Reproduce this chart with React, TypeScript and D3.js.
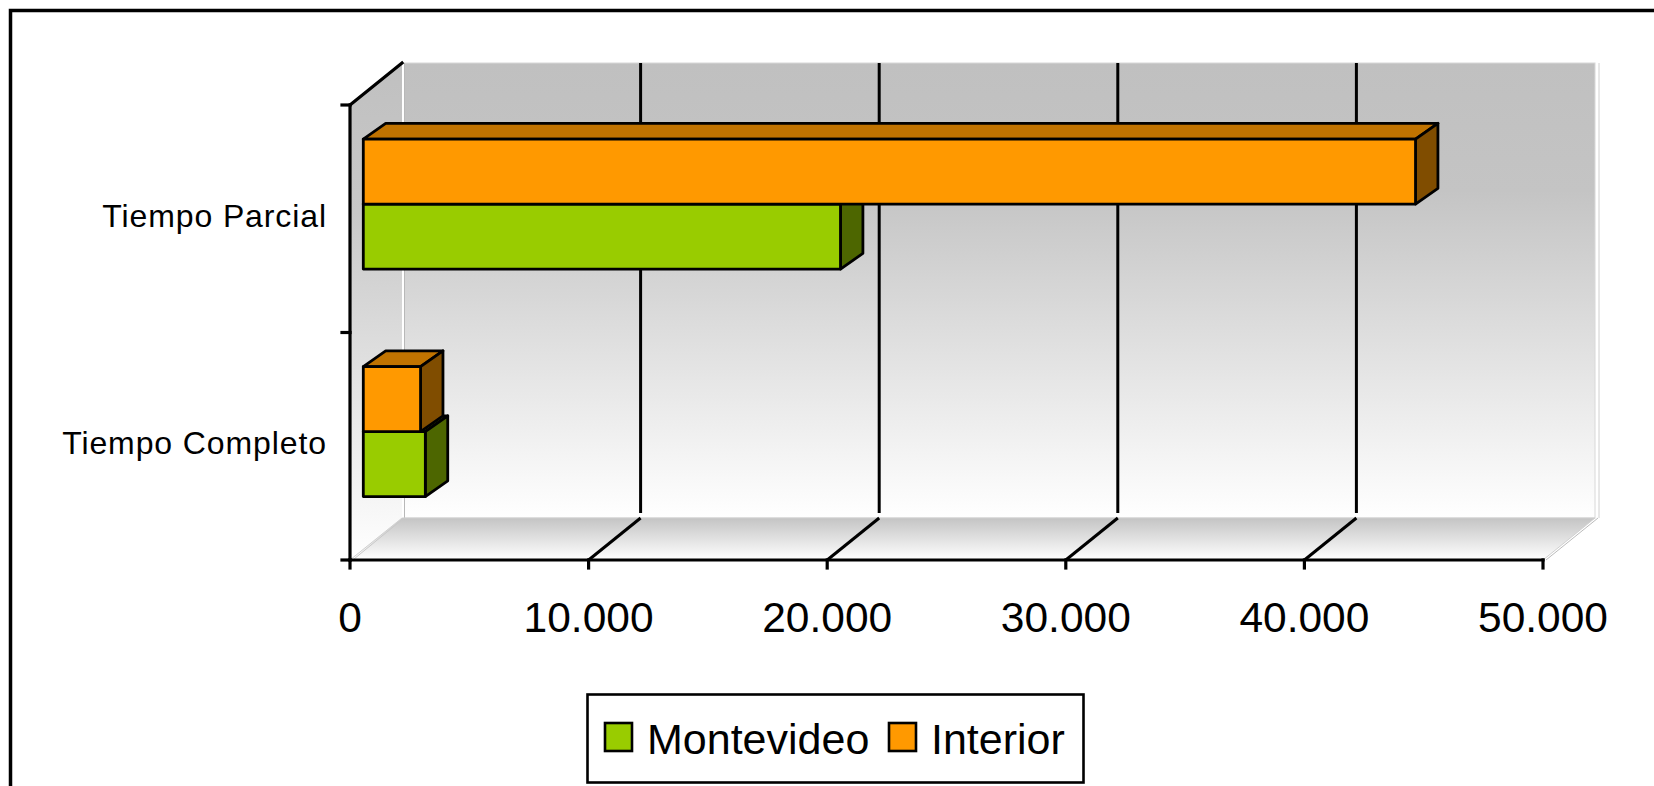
import React from "react";
import * as d3 from "d3";

const categories = ["Tiempo Completo", "Tiempo Parcial"];
const seriesNames = ["Montevideo", "Interior"];
const montevideo = [2600, 20000];
const interior = [2400, 44100];
const xTicks = [0, 10000, 20000, 30000, 40000, 50000];

const seriesValues: Record<string, number[]> = { Montevideo: montevideo, Interior: interior };
const seriesColors: Record<string, { front: string; top: string; side: string }> = {
  Montevideo: { front: "#99CC00", top: "#739900", side: "#4D6600" },
  Interior: { front: "#FF9900", top: "#C07300", side: "#804D00" },
};

const FONT = "'Liberation Sans', Arial, Helvetica, sans-serif";
const fmt = (v: number) => (v === 0 ? "0" : d3.format(",")(v).replace(/,/g, "."));

export default function App() {
  const W = 1654, H = 786;
  const x = d3.scaleLinear().domain([0, 50000]).range([350, 1543]);
  const y = d3.scaleBand<string>().domain(categories).range([560, 105]).padding(0);
  const ys = d3
    .scaleBand<string>()
    .domain(["Interior", "Montevideo"])
    .range([0, y.bandwidth()])
    .paddingInner(0)
    .paddingOuter(0.75);
  const D = { x: 52, y: -42 }; // full depth
  const F = { x: 13.3, y: -14.7 }; // bar front offset
  const B = { x: 22.4, y: -15.7 }; // bar depth
  const yTop = 105, yBot = 560;
  const x0 = x(0), x1 = x(50000);

  const bars: JSX.Element[] = [];
  categories.forEach((c, ci) => {
    ["Montevideo", "Interior"].forEach((s) => {
      const v = seriesValues[s][ci];
      const col = seriesColors[s];
      const bx0 = x(0) + F.x;
      const bx1 = x(v) + F.x;
      const by0 = (y(c) as number) + (ys(s) as number) + F.y;
      const by1 = by0 + ys.bandwidth();
      const top = [[bx0, by0], [bx1, by0], [bx1 + B.x, by0 + B.y], [bx0 + B.x, by0 + B.y]];
      const side = [[bx1, by0], [bx1 + B.x, by0 + B.y], [bx1 + B.x, by1 + B.y], [bx1, by1]];
      const pts = (p: number[][]) => p.map((q) => q.join(",")).join(" ");
      bars.push(
        <g key={c + s} stroke="#000" strokeWidth={2.8} strokeLinejoin="round">
          <polygon points={pts(top)} fill={col.top} />
          <polygon points={pts(side)} fill={col.side} />
          <rect x={bx0} y={by0} width={bx1 - bx0} height={by1 - by0} fill={col.front} />
        </g>
      );
    });
  });

  return (
    <svg width={W} height={H} style={{ position: "absolute", left: 0, top: 0, background: "#fff" }}>
      <defs>
        <linearGradient id="wallG" x1="0" y1={yTop + D.y} x2="0" y2={yBot + D.y} gradientUnits="userSpaceOnUse">
          <stop offset="0" stopColor="#c0c0c0" />
          <stop offset="0.28" stopColor="#c4c4c4" />
          <stop offset="1" stopColor="#ffffff" />
        </linearGradient>
        <linearGradient id="sideG" x1="0" y1={yTop + D.y} x2="0" y2={yBot} gradientUnits="userSpaceOnUse">
          <stop offset="0" stopColor="#c0c0c0" />
          <stop offset="0.3" stopColor="#c8c8c8" />
          <stop offset="1" stopColor="#ffffff" />
        </linearGradient>
        <linearGradient id="floorG" x1="0" y1={yBot + D.y} x2="0" y2={yBot} gradientUnits="userSpaceOnUse">
          <stop offset="0" stopColor="#c4c4c4" />
          <stop offset="1" stopColor="#ffffff" />
        </linearGradient>
      </defs>

      {/* outer frame */}
      <rect x={10.5} y={10.5} width={1700} height={800} fill="none" stroke="#000" strokeWidth={3.5} />

      {/* back wall */}
      <rect x={x0 + D.x} y={yTop + D.y} width={x1 - x0} height={yBot - yTop} fill="url(#wallG)" stroke="#d8d8d8" strokeWidth={1} />
      <line x1={x1 + D.x + 4} x2={x1 + D.x + 4} y1={yTop + D.y} y2={yBot + D.y} stroke="#d0d0d0" strokeWidth={1} />
      {/* side wall */}
      <polygon
        points={`${x0},${yTop} ${x0 + D.x},${yTop + D.y} ${x0 + D.x},${yBot + D.y} ${x0},${yBot}`}
        fill="url(#sideG)"
      />
      <line x1={x0 + D.x + 1} x2={x0 + D.x + 1} y1={yTop + D.y} y2={yBot + D.y} stroke="#ffffff" strokeWidth={2} />
      <line x1={x0 + D.x + 2.5} x2={x0 + D.x + 2.5} y1={yTop + D.y} y2={yBot + D.y} stroke="#b8b8b8" strokeWidth={1} />
      {/* floor */}
      <polygon
        points={`${x0},${yBot} ${x0 + D.x},${yBot + D.y} ${x1 + D.x},${yBot + D.y} ${x1},${yBot}`}
        fill="url(#floorG)"
        stroke="#d0d0d0"
        strokeWidth={1}
      />
      <line x1={x0 + 4} y1={yBot - 1} x2={x0 + D.x + 2} y2={yBot + D.y} stroke="#c8c8c8" strokeWidth={1} />
      <line x1={x1 + 3} y1={yBot} x2={x1 + D.x + 3} y2={yBot + D.y} stroke="#bbbbbb" strokeWidth={1} />

      {/* gridlines */}
      {xTicks.slice(1, -1).map((t) => (
        <g key={"g" + t} stroke="#000" strokeWidth={3}>
          <line x1={x(t) + D.x} x2={x(t) + D.x} y1={yTop + D.y} y2={yBot + D.y - 5} />
          <line x1={x(t)} y1={yBot} x2={x(t) + D.x} y2={yBot + D.y} />
        </g>
      ))}

      {/* axes */}
      <g stroke="#000" strokeWidth={3.2} strokeLinecap="square">
        <line x1={x0} y1={yTop} x2={x0} y2={yBot} />
        <line x1={x0} y1={yTop} x2={x0 + D.x} y2={yTop + D.y} />
        <line x1={x0} y1={yBot} x2={x1} y2={yBot} />
        {[yTop, (y("Tiempo Completo") as number), yBot].map((v, i) => (
          <line key={"yt" + i} x1={x0 - 8} x2={x0} y1={v} y2={v} />
        ))}
        {xTicks.map((t) => (
          <line key={"xt" + t} x1={x(t)} x2={x(t)} y1={yBot} y2={yBot + 8} />
        ))}
      </g>

      {bars}

      {/* category labels */}
      {categories.map((c) => (
        <text
          key={c}
          x={327}
          y={(y(c) as number) + y.bandwidth() / 2 + 8}
          textAnchor="end"
          fontFamily={FONT}
          fontSize={32}
          letterSpacing={0.9}
          fill="#000"
        >
          {c}
        </text>
      ))}

      {/* x tick labels */}
      {xTicks.map((t) => (
        <text key={"xl" + t} x={x(t)} y={632} textAnchor="middle" fontFamily={FONT} fontSize={42.5} fill="#000">
          {fmt(t)}
        </text>
      ))}

      {/* legend */}
      <rect x={587.5} y={694.5} width={496} height={88} fill="#fff" stroke="#000" strokeWidth={2.6} />
      {seriesNames.map((s, i) => {
        const lx = i === 0 ? 605 : 889;
        return (
          <g key={"lg" + s}>
            <rect x={lx} y={723} width={27} height={28} fill={seriesColors[s].front} stroke="#000" strokeWidth={2.6} />
            <text x={lx + 42} y={754} fontFamily={FONT} fontSize={43} fill="#000">
              {s}
            </text>
          </g>
        );
      })}
    </svg>
  );
}
